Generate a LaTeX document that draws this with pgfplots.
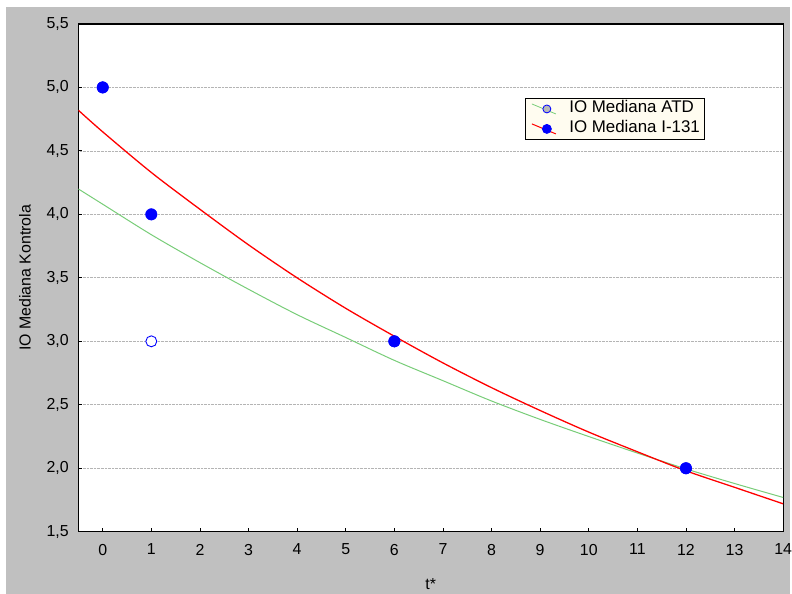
\documentclass[border=0pt]{standalone}
\usepackage{pgfplots}
\pgfplotsset{compat=1.18}
\usepackage{fontspec}
\setmainfont{Liberation Sans}
\definecolor{bg}{RGB}{192,192,192}
\definecolor{fitgreen}{RGB}{120,205,120}
\definecolor{legbg}{RGB}{255,252,240}
\definecolor{gridc}{RGB}{180,180,180}
\newcommand{\fs}{\fontsize{16}{19}\selectfont}
\newcommand{\fl}{\fontsize{17}{20}\selectfont}
\begin{document}
\begin{tikzpicture}
\path[fill=white] (0bp,0bp) rectangle (792bp,595bp);
\fill[bg] (6bp,0bp) rectangle (792bp,588bp);
\begin{axis}[
  at={(78.6bp,62bp)}, anchor=south west,
  width=706.4bp, height=509bp, scale only axis,
  xmin=-0.5, xmax=14, ymin=1.5, ymax=5.5,
  xtick={0,1,2,3,4,5,6,7,8,9,10,11,12,13,14},
  ytick={1.5,2.0,2.5,3.0,3.5,4.0,4.5,5.0,5.5},
  /pgf/number format/assume math mode=true,
  yticklabel style={/pgf/number format/fixed,/pgf/number format/fixed zerofill,/pgf/number format/precision=1,/pgf/number format/use comma},
  tick label style={font=\fs, inner sep=0pt},
  xticklabel style={anchor=north, yshift=-12bp},
  yticklabel style={anchor=east, xshift=-9.6bp},
  tick align=inside, tick pos=left, major tick length=4bp,
  tick style={black, line width=0.8bp},
  axis line style={black, line width=1.2bp},
  axis background/.style={fill=white},
  ymajorgrids, major grid style={densely dotted, gridc, line width=0.7bp},
  xlabel={t*}, ylabel={IO Mediana Kontrola},
  label style={font=\fs},
  xlabel style={at={(axis description cs:0.5,0)}, anchor=center, yshift=-52bp},
  ylabel style={at={(axis description cs:0,0.5)}, anchor=center, yshift=53.6bp},
  legend style={at={(0.633,0.855)}, anchor=north west, draw=black, line width=0.8bp, fill=legbg,
    font=\fl, inner xsep=2bp, inner ysep=1bp, row sep=0pt,
    nodes={inner sep=2.5bp, text height=11.5bp, text depth=3.5bp}},
  legend cell align=left,
]
\addplot[fitgreen, line width=1bp, smooth, forget plot] coordinates {
(-0.5,4.20) (0,4.08) (1,3.84) (2,3.62) (3,3.41) (4,3.21) (5,3.03) (6,2.85) (7,2.69) (8,2.53) (9,2.385) (10,2.25) (11,2.12) (12,1.995) (13,1.88) (14,1.77)};
\addplot[red, line width=1.3bp, smooth, forget plot] coordinates {
(-0.5,4.82) (0,4.65) (1,4.33) (2,4.04) (3,3.76) (4,3.50) (5,3.26) (6,3.04) (7,2.83) (8,2.635) (9,2.455) (10,2.285) (11,2.13) (12,1.98) (13,1.85) (14,1.72)};
\addplot[only marks, mark=*, mark size=5.5bp, draw=blue, fill=white, line width=0.9bp, forget plot] coordinates {
(0,5) (1,3) (6,3) (12,2)};
\addplot[only marks, mark=*, mark size=5.8bp, draw=blue, fill=blue, forget plot] coordinates {
(0,5) (1,4) (6,3) (12,2)};
\addlegendimage{legend image code/.code={
  \path[draw=none, fill=none] (0bp,-6bp) rectangle (40bp,6bp);
  \draw[fitgreen, line width=0.8bp] (5bp,5bp) -- (29bp,-5bp);
  \draw[blue, fill=gray!55, line width=0.8bp] (20bp,0bp) circle (4bp);}}
\addlegendentry{IO Mediana ATD}
\addlegendimage{legend image code/.code={
  \path[draw=none, fill=none] (0bp,-6bp) rectangle (40bp,6bp);
  \draw[red, line width=1bp] (5bp,5bp) -- (29bp,-5bp);
  \fill[blue] (20bp,0bp) circle (4.5bp);}}
\addlegendentry{IO Mediana I-131}
\end{axis}
\end{tikzpicture}
\end{document}
